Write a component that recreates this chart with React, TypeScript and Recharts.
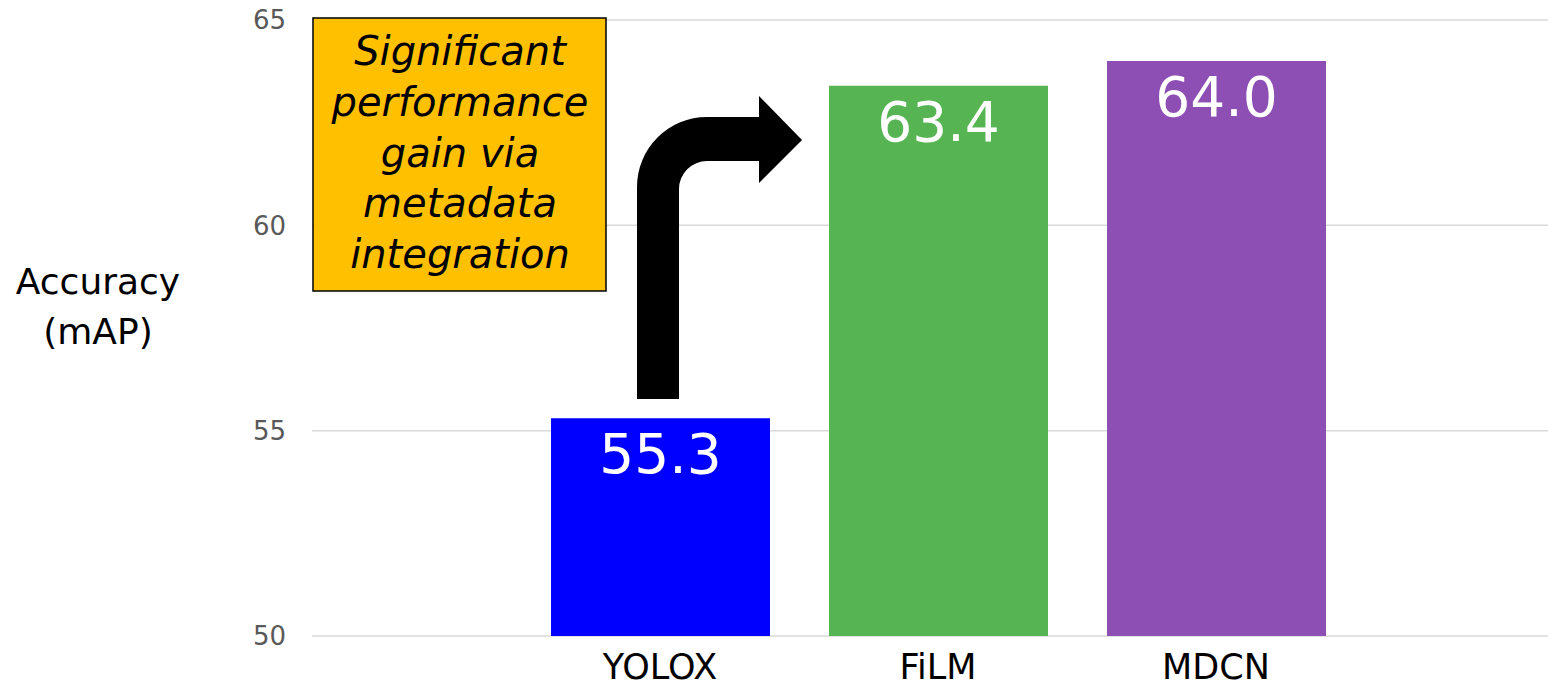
import React from 'react';
import { BarChart, Bar, XAxis, YAxis, CartesianGrid, LabelList, Cell } from 'recharts';

const models = ['YOLOX', 'FiLM', 'MDCN'];
const accuracy = [55.3, 63.4, 64.0];
const barColors = ['#0000FF', '#56B453', '#8E4FB4'];
const yTicks = [50, 55, 60, 65];
const noteLines = ['Significant', 'performance', 'gain via', 'metadata', 'integration'];
const axisTitle = ['Accuracy', '(mAP)'];

const W = 1548;
const H = 689;
const FONT = '"DejaVu Sans", sans-serif';

const data = models.map((name, i) => ({ name, value: accuracy[i] }));

// callout box + bent arrow drawn over the chart
function Annotation() {
  return (
    <svg
      width={W}
      height={H}
      style={{ position: 'absolute', left: 0, top: 0, pointerEvents: 'none' }}
    >
      <rect x={313} y={18} width={293} height={273} fill="#FFC000" stroke="#000" strokeWidth={1.5} />
      {noteLines.map((line, i) => (
        <text
          key={line}
          x={460}
          y={65 + i * 50.75}
          textAnchor="middle"
          fontFamily={FONT}
          fontStyle="italic"
          fontSize={40}
          fill="#000"
        >
          {line}
        </text>
      ))}
      <path
        d="M 637 399 L 637 187 A 70 70 0 0 1 707 117 L 759 117 L 759 96 L 802 140 L 759 183 L 759 161 L 707 161 A 28 28 0 0 0 679 189 L 679 399 Z"
        fill="#000"
      />
      {axisTitle.map((line, i) => (
        <text key={line} x={98} y={294 + i * 50} textAnchor="middle" fontFamily={FONT} fontSize={36} fill="#000">
          {line}
        </text>
      ))}
    </svg>
  );
}

export default function App() {
  return (
    <div style={{ position: 'absolute', left: 0, top: 0, width: W, height: H, background: '#fff' }}>
      <BarChart width={W} height={H} data={data} margin={{ top: 20, right: 0, bottom: 0, left: 0 }}>
        <CartesianGrid vertical={false} stroke="#D9D9D9" strokeWidth={1.5} />
        <XAxis
          dataKey="name"
          height={53}
          axisLine={false}
          tickLine={false}
          tickSize={0}
          tickMargin={18}
          padding={{ left: 209, right: 193 }}
          tick={{ fill: '#000', fontSize: 35, fontFamily: FONT }}
          interval={0}
        />
        <YAxis
          width={312}
          domain={[50, 65]}
          ticks={yTicks}
          axisLine={false}
          tickLine={false}
          tickSize={0}
          tickMargin={26}
          allowDataOverflow
          tick={{ fill: '#595959', fontSize: 26, fontFamily: FONT }}
        />
        <Bar dataKey="value" barSize={219} isAnimationActive={false}>
          {data.map((d, i) => (
            <Cell key={d.name} fill={barColors[i]} />
          ))}
          <LabelList
            dataKey="value"
            position="insideTop"
            offset={16}
            fill="#fff"
            fontSize={55}
            fontFamily={FONT}
            formatter={(v: number) => v.toFixed(1)}
          />
        </Bar>
      </BarChart>
      <Annotation />
    </div>
  );
}
